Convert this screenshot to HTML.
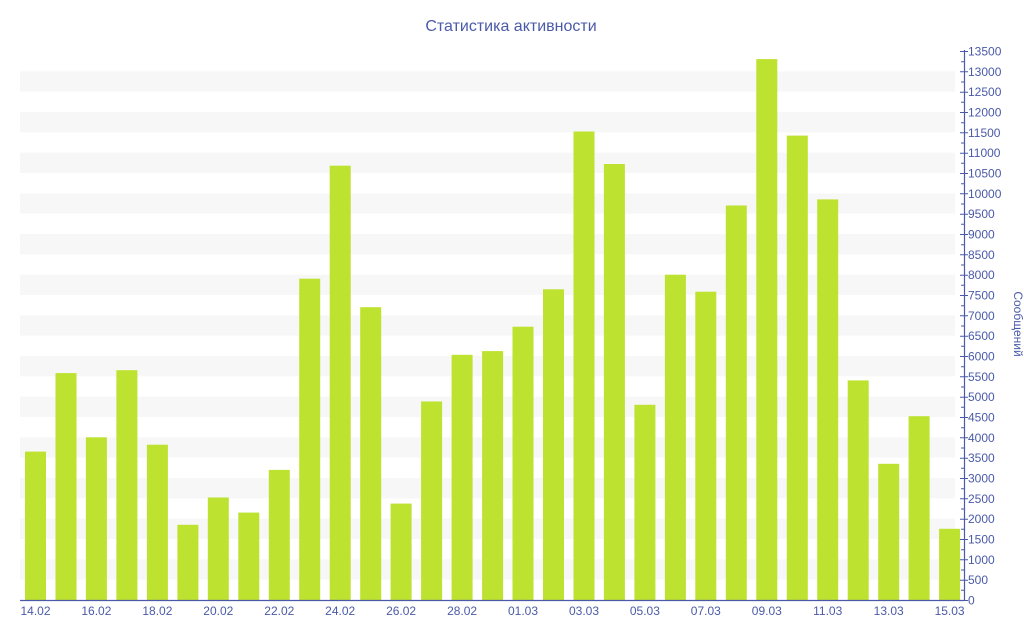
<!DOCTYPE html>
<html><head><meta charset="utf-8"><style>
html,body{margin:0;padding:0;background:#fff;}
svg{display:block;font-family:"Liberation Sans","DejaVu Sans",sans-serif;}
</style></head><body>
<svg width="1024" height="640" viewBox="0 0 1024 640" xmlns="http://www.w3.org/2000/svg">
<g fill="#f7f7f7">
<rect x="20" y="559.3" width="935" height="20.33"/>
<rect x="20" y="518.7" width="935" height="20.33"/>
<rect x="20" y="478.0" width="935" height="20.33"/>
<rect x="20" y="437.3" width="935" height="20.33"/>
<rect x="20" y="396.7" width="935" height="20.33"/>
<rect x="20" y="356.0" width="935" height="20.33"/>
<rect x="20" y="315.3" width="935" height="20.33"/>
<rect x="20" y="274.7" width="935" height="20.33"/>
<rect x="20" y="234.0" width="935" height="20.33"/>
<rect x="20" y="193.3" width="935" height="20.33"/>
<rect x="20" y="152.7" width="935" height="20.33"/>
<rect x="20" y="112.0" width="935" height="20.33"/>
<rect x="20" y="71.3" width="935" height="20.33"/>
</g>
<g fill="#bde22f">
<rect x="25" y="451.6" width="21" height="148.4"/>
<rect x="55.5" y="373.1" width="21" height="226.9"/>
<rect x="85.9" y="437.3" width="21" height="162.7"/>
<rect x="116.4" y="370.2" width="21" height="229.8"/>
<rect x="146.9" y="444.7" width="21" height="155.3"/>
<rect x="177.4" y="524.8" width="21" height="75.2"/>
<rect x="207.8" y="497.5" width="21" height="102.5"/>
<rect x="238.3" y="512.6" width="21" height="87.4"/>
<rect x="268.8" y="469.9" width="21" height="130.1"/>
<rect x="299.2" y="278.7" width="21" height="321.3"/>
<rect x="329.7" y="165.7" width="21" height="434.3"/>
<rect x="360.2" y="307.2" width="21" height="292.8"/>
<rect x="390.6" y="503.6" width="21" height="96.4"/>
<rect x="421.1" y="401.5" width="21" height="198.5"/>
<rect x="451.6" y="354.8" width="21" height="245.2"/>
<rect x="482.1" y="351.1" width="21" height="248.9"/>
<rect x="512.5" y="326.7" width="21" height="273.3"/>
<rect x="543" y="289.3" width="21" height="310.7"/>
<rect x="573.5" y="131.5" width="21" height="468.5"/>
<rect x="603.9" y="164.0" width="21" height="436.0"/>
<rect x="634.4" y="404.8" width="21" height="195.2"/>
<rect x="664.9" y="274.7" width="21" height="325.3"/>
<rect x="695.3" y="291.7" width="21" height="308.3"/>
<rect x="725.8" y="205.5" width="21" height="394.5"/>
<rect x="756.3" y="59.1" width="21" height="540.9"/>
<rect x="786.8" y="135.6" width="21" height="464.4"/>
<rect x="817.2" y="199.4" width="21" height="400.6"/>
<rect x="847.7" y="380.4" width="21" height="219.6"/>
<rect x="878.2" y="463.8" width="21" height="136.2"/>
<rect x="908.6" y="416.2" width="21" height="183.8"/>
<rect x="939.1" y="528.8" width="21" height="71.2"/>
</g>
<text x="511" y="31" text-anchor="middle" font-size="16" fill="#4a5aa8">Статистика активности</text>
<g stroke="#4a5aa8" stroke-width="1.2">
<line x1="20" y1="600.5" x2="964.5" y2="600.5"/>
<line x1="964.5" y1="50" x2="964.5" y2="601"/>
</g>
<g stroke="#4a5aa8" stroke-width="1">
<path d="M960 600.5h8M960 580.2h8M960 559.8h8M960 539.5h8M960 519.2h8M960 498.8h8M960 478.5h8M960 458.2h8M960 437.8h8M960 417.5h8M960 397.2h8M960 376.8h8M960 356.5h8M960 336.2h8M960 315.8h8M960 295.5h8M960 275.2h8M960 254.8h8M960 234.5h8M960 214.2h8M960 193.8h8M960 173.5h8M960 153.2h8M960 132.8h8M960 112.5h8M960 92.2h8M960 71.8h8M960 51.5h8"/>
<path d="M961 590.3h4M961 570h4M961 549.7h4M961 529.3h4M961 509h4M961 488.7h4M961 468.3h4M961 448h4M961 427.7h4M961 407.3h4M961 387h4M961 366.7h4M961 346.3h4M961 326h4M961 305.7h4M961 285.3h4M961 265h4M961 244.7h4M961 224.3h4M961 204h4M961 183.7h4M961 163.3h4M961 143h4M961 122.7h4M961 102.3h4M961 82h4M961 61.7h4"/>
</g>
<g font-size="12" fill="#4a5aa8">
<text x="968" y="604.5">0</text>
<text x="968" y="584.2">500</text>
<text x="968" y="563.8">1000</text>
<text x="968" y="543.5">1500</text>
<text x="968" y="523.2">2000</text>
<text x="968" y="502.8">2500</text>
<text x="968" y="482.5">3000</text>
<text x="968" y="462.2">3500</text>
<text x="968" y="441.8">4000</text>
<text x="968" y="421.5">4500</text>
<text x="968" y="401.2">5000</text>
<text x="968" y="380.8">5500</text>
<text x="968" y="360.5">6000</text>
<text x="968" y="340.2">6500</text>
<text x="968" y="319.8">7000</text>
<text x="968" y="299.5">7500</text>
<text x="968" y="279.2">8000</text>
<text x="968" y="258.8">8500</text>
<text x="968" y="238.5">9000</text>
<text x="968" y="218.2">9500</text>
<text x="968" y="197.8">10000</text>
<text x="968" y="177.5">10500</text>
<text x="968" y="157.2">11000</text>
<text x="968" y="136.8">11500</text>
<text x="968" y="116.5">12000</text>
<text x="968" y="96.2">12500</text>
<text x="968" y="75.8">13000</text>
<text x="968" y="55.5">13500</text>
</g>
<g font-size="12" fill="#4a5aa8" text-anchor="middle">
<text x="35.5" y="615">14.02</text>
<text x="96.4" y="615">16.02</text>
<text x="157.4" y="615">18.02</text>
<text x="218.3" y="615">20.02</text>
<text x="279.3" y="615">22.02</text>
<text x="340.2" y="615">24.02</text>
<text x="401.1" y="615">26.02</text>
<text x="462.1" y="615">28.02</text>
<text x="523" y="615">01.03</text>
<text x="584" y="615">03.03</text>
<text x="644.9" y="615">05.03</text>
<text x="705.8" y="615">07.03</text>
<text x="766.8" y="615">09.03</text>
<text x="827.7" y="615">11.03</text>
<text x="888.7" y="615">13.03</text>
<text x="949.6" y="615">15.03</text>
</g>
<text x="1014" y="324" font-size="12" fill="#4a5aa8" text-anchor="middle" transform="rotate(90 1014 324)">Сообщений</text>
</svg>
</body></html>
